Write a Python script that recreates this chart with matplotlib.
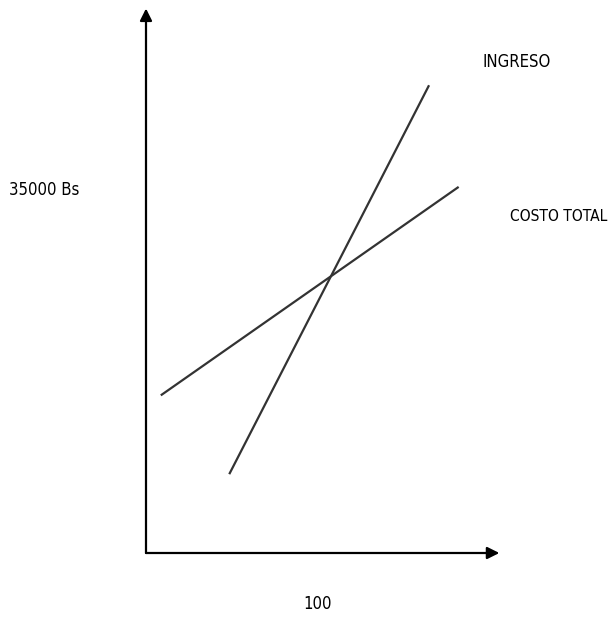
import matplotlib.pyplot as plt
import matplotlib

matplotlib.rcParams['font.family'] = ['DejaVu Sans']
matplotlib.rcParams['font.stretch'] = 'condensed'

# quantity (units) and money (Bs) for each line
ingreso_q = [45, 153]
ingreso_m = [7600, 45100]
costo_q = [8, 169]
costo_m = [15200, 35300]

q_tip = 191
m_tip = 52500

# pixel scales of the drawing
px_q = 1.85
px_m = 363 / 35000

fig = plt.figure(figsize=(6.14, 6.22), dpi=100)
ax = fig.add_axes([0, 0, 1, 1])
ax.set_xlim(-146 / px_q, (614 - 146) / px_q)
ax.set_ylim(-(622 - 553) / px_m, 553 / px_m)
ax.axis('off')

ax.plot(ingreso_q, ingreso_m, color='#333333', lw=1.6, solid_capstyle='butt')
ax.plot(costo_q, costo_m, color='#333333', lw=1.6, solid_capstyle='butt')

arrow = dict(arrowstyle='-|>', color='black', lw=1.6, mutation_scale=18, shrinkA=0, shrinkB=0)
ax.annotate('', xy=(0, m_tip), xytext=(0, 0), arrowprops=arrow)
ax.annotate('', xy=(q_tip, 0), xytext=(0, 0), arrowprops=arrow)

ax.text(-55, 35000, '35000 Bs', fontsize=12, ha='center', va='center')
ax.text(93, -4900, '100', fontsize=12, ha='center', va='center')
ax.text(182, 47300, 'INGRESO', fontsize=12, ha='left', va='center')
ax.text(197, 32400, 'COSTO TOTAL', fontsize=11.2, ha='left', va='center')

plt.savefig('out.png', dpi=100)
